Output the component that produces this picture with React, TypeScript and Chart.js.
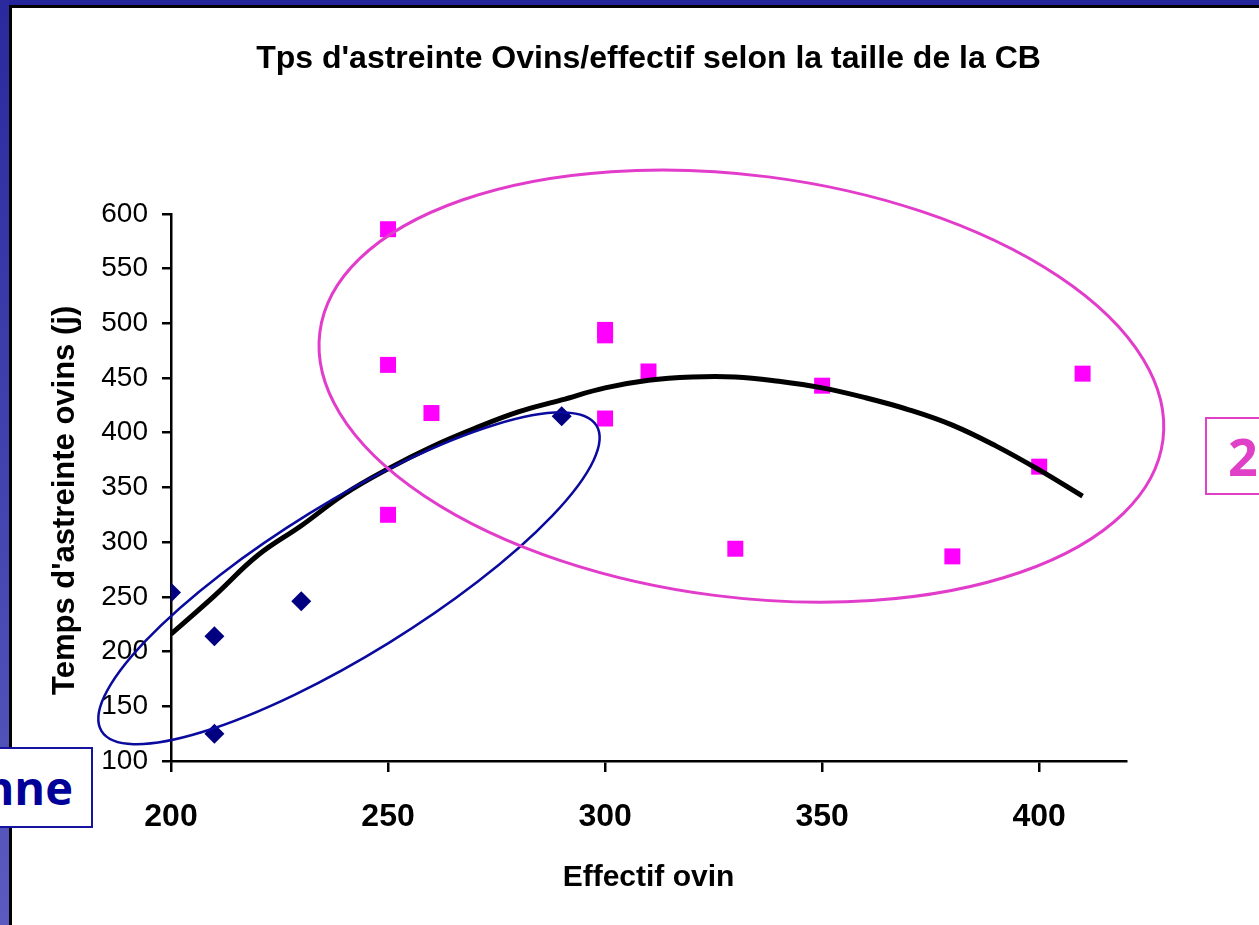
import React, { useEffect, useRef } from 'react';
import { Chart, registerables } from 'chart.js';

Chart.register(...registerables);

const chartTitle = "Tps d'astreinte Ovins/effectif selon la taille de la CB";
const xAxisTitle = 'Effectif ovin';
// trailing spaces push the rotated title a bit lower, as in the slide
const yAxisTitle = "Temps d'astreinte ovins (j)   ";

// groupe 1 : losanges bleus
const group1X = [200, 210, 210, 230, 290];
const group1Y = [254, 214, 125, 246, 415];

// groupe 2 : carrés roses
const group2X = [250, 250, 250, 260, 300, 300, 300, 310, 330, 350, 380, 400, 410];
const group2Y = [586, 462, 325, 418, 494, 489, 413, 456, 294, 443, 287, 369, 454];

// courbe de tendance
const trendX = [200, 210, 220, 230, 240, 250, 260, 270, 280, 290, 300, 310, 320, 330, 340, 350, 360, 370, 380, 390, 400, 410];
const trendY = [216, 251, 288, 315, 344, 367, 387, 404, 419, 430, 441, 448, 451, 451, 447, 441, 432, 421, 407, 388, 366, 342];

// axes
const xMin = 200;
const xMax = 420;
const xLastTick = 400;
const yMin = 100;
const yMax = 600;
const tickStep = 50;

// ellipses de regroupement, en unités de données (rayons en unités de l'axe x)
const groupEllipses = [
  { cx: 241, cy: 267, rx: 67, ry: 17.5, angle: -31.7, color: '#0a0a9e', width: 2.5 },
  { cx: 331.4, cy: 442.6, rx: 97.9, ry: 48.6, angle: 7.3, color: '#e23ccb', width: 3 },
];

const FONT = "'Liberation Sans', Arial, sans-serif";

const ellipsePlugin = {
  id: 'groupEllipses',
  afterDatasetsDraw(chart: any) {
    const { ctx, scales } = chart;
    const x = scales.x;
    const y = scales.y;
    ctx.save();
    groupEllipses.forEach(e => {
      const px = x.getPixelForValue(e.cx);
      const py = y.getPixelForValue(e.cy);
      const k = x.getPixelForValue(e.cx + 1) - px;
      ctx.beginPath();
      ctx.ellipse(px, py, e.rx * k, e.ry * k, (e.angle * Math.PI) / 180, 0, Math.PI * 2);
      ctx.strokeStyle = e.color;
      ctx.lineWidth = e.width;
      ctx.stroke();
    });
    ctx.restore();
  },
};

const App: React.FC = () => {
  const canvasRef = useRef<HTMLCanvasElement>(null);

  useEffect(() => {
    if (!canvasRef.current) return;
    const chart = new Chart(canvasRef.current, {
      type: 'scatter',
      data: {
        datasets: [
          {
            type: 'line',
            data: trendX.map((x, i) => ({ x, y: trendY[i] })),
            borderColor: '#000000',
            borderWidth: 5,
            pointRadius: 0,
            tension: 0.4,
            fill: false,
            order: 0,
          } as any,
          {
            data: group2X.map((x, i) => ({ x, y: group2Y[i] })),
            pointStyle: 'rect',
            pointRadius: 11.3,
            backgroundColor: '#ff00ff',
            borderColor: '#ff00ff',
            borderWidth: 0,
            order: 1,
          },
          {
            data: group1X.map((x, i) => ({ x, y: group1Y[i] })),
            pointStyle: 'rectRot',
            pointRadius: 10,
            backgroundColor: '#000080',
            borderColor: '#000080',
            borderWidth: 0,
            order: 2,
          },
        ],
      },
      options: {
        animation: false,
        responsive: true,
        maintainAspectRatio: false,
        layout: { padding: { left: 0, right: 133, top: 0, bottom: 0 } },
        plugins: {
          legend: { display: false },
          tooltip: { enabled: false },
          title: {
            display: true,
            text: chartTitle,
            color: '#000000',
            fullSize: false,
            font: { family: FONT, size: 32, weight: 'bold' },
            padding: { top: 39.5, bottom: 136 },
          },
        },
        scales: {
          x: {
            type: 'linear',
            min: xMin,
            max: xMax,
            border: { color: '#000000', width: 2.5 },
            grid: { drawOnChartArea: false, drawTicks: true, tickLength: 11, color: '#000000', lineWidth: 2.5 },
            ticks: {
              stepSize: tickStep,
              color: '#000000',
              maxRotation: 0,
              padding: 26,
              font: { family: FONT, size: 32, weight: 'bold' },
            },
            afterBuildTicks: (s: any) => {
              s.ticks = s.ticks.filter((t: any) => t.value <= xLastTick);
            },
            afterFit: (s: any) => {
              s.height = 164;
            },
            title: {
              display: true,
              text: xAxisTitle,
              color: '#000000',
              font: { family: FONT, size: 30, weight: 'bold' },
              padding: { top: 0, bottom: 29 },
            },
          },
          y: {
            type: 'linear',
            min: yMin,
            max: yMax,
            border: { color: '#000000', width: 2.5 },
            grid: { drawOnChartArea: false, drawTicks: true, tickLength: 9, color: '#000000', lineWidth: 2.5 },
            ticks: {
              stepSize: tickStep,
              color: '#000000',
              padding: 14,
              font: { family: FONT, size: 28 },
            },
            afterFit: (s: any) => {
              s.width = 171;
            },
            title: {
              display: true,
              text: yAxisTitle,
              color: '#000000',
              font: { family: FONT, size: 31, weight: 'bold' },
              padding: { top: 47, bottom: 0 },
            },
          },
        },
      },
      plugins: [ellipsePlugin],
    });
    return () => chart.destroy();
  }, []);

  return (
    <div style={{ position: 'fixed', left: 0, top: 0, width: 1259, height: 925, background: '#ffffff', overflow: 'hidden' }}>
      <div style={{ position: 'absolute', left: 0, top: 0, width: 1259, height: 925 }}>
        <canvas ref={canvasRef} />
      </div>
      {/* cadre de la diapositive */}
      <div style={{ position: 'absolute', left: 0, top: 0, width: 1259, height: 5, background: '#25259b' }} />
      <div style={{ position: 'absolute', left: 0, top: 0, width: 9, height: 925, background: 'linear-gradient(#2a2a9e, #5a5ac0)' }} />
      <div style={{ position: 'absolute', left: 9, top: 5, width: 1250, height: 3, background: '#000000' }} />
      <div style={{ position: 'absolute', left: 9, top: 5, width: 3, height: 920, background: '#000000' }} />
      {/* étiquettes de groupe */}
      <div
        style={{
          position: 'absolute', left: -40, top: 747, width: 133, height: 81,
          border: '2px solid #1414a0', background: '#ffffff',
          display: 'flex', alignItems: 'center', justifyContent: 'flex-end', paddingRight: 18, boxSizing: 'border-box',
          fontFamily: "'Open Sans', sans-serif", fontWeight: 'bold', fontSize: 47, color: '#000099', lineHeight: 1,
        }}
      >
        nne
      </div>
      <div
        style={{
          position: 'absolute', left: 1205, top: 417, width: 120, height: 78,
          border: '2px solid #e040c8', background: '#ffffff',
          display: 'flex', alignItems: 'center', paddingLeft: 21, boxSizing: 'border-box',
          fontFamily: "'Open Sans', sans-serif", fontWeight: 'bold', fontSize: 52, color: '#e040c8', lineHeight: 1,
        }}
      >
        2
      </div>
    </div>
  );
};

export default App;
